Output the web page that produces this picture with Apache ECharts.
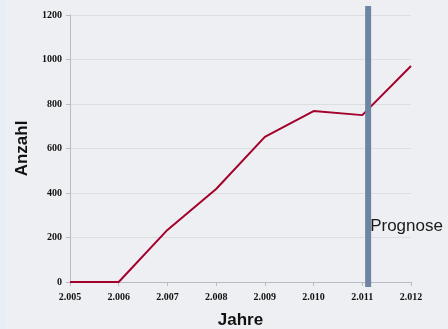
<!DOCTYPE html>
<html>
<head>
<meta charset="utf-8">
<script src="https://cdn.jsdelivr.net/npm/echarts@6/dist/echarts.min.js"></script>
<style>
  html, body { margin: 0; padding: 0; background: #eeeff2; }
  #strip { position: absolute; left: 0; top: 0; width: 6px; height: 329px; background: #e8edf6; }
  #chart { width: 448px; height: 329px; }
</style>
</head>
<body>
<div id="strip"></div>
<div id="chart"></div>
<script>
// Jahre / Anzahl
var years = [2005, 2006, 2007, 2008, 2009, 2010, 2011, 2012];
var counts = [0, 0, 234, 418, 652, 768, 750, 971];
var prognoseYear = 2011.12;
var prognoseLabel = "Prognose";

var myChart = echarts.init(document.getElementById('chart'));

function fmtYear(v) {
  // deutsches Tausendertrennzeichen
  var s = String(Math.round(v));
  return s.charAt(0) + "." + s.slice(1);
}

var labelFont = {
  fontFamily: "Liberation Serif",
  fontWeight: "bold",
  fontSize: 10,
  color: "#111"
};

var option = {
  backgroundColor: "transparent",
  animation: false,
  grid: { left: 70, right: 37, top: 15, bottom: 47, containLabel: false, outerBoundsMode: "none" },
  xAxis: {
    type: "value",
    min: 2005,
    max: 2012,
    interval: 1,
    name: "Jahre",
    nameLocation: "middle",
    nameGap: 30,
    nameTextStyle: { fontFamily: "Liberation Sans", fontWeight: "bold", fontSize: 17, color: "#111" },
    axisLine: { show: true, lineStyle: { color: "#b9bcc2", width: 1 } },
    axisTick: { show: true, length: 4, lineStyle: { color: "#b9bcc2" } },
    axisLabel: Object.assign({ formatter: fmtYear, margin: 10 }, labelFont),
    splitLine: { show: false }
  },
  yAxis: {
    type: "value",
    min: 0,
    max: 1200,
    interval: 200,
    name: "Anzahl",
    nameLocation: "middle",
    nameGap: 38,
    nameTextStyle: { fontFamily: "Liberation Sans", fontWeight: "bold", fontSize: 17, color: "#111" },
    axisLine: { show: true, lineStyle: { color: "#b9bcc2", width: 1 } },
    axisTick: { show: true, length: 4, lineStyle: { color: "#b9bcc2" } },
    axisLabel: Object.assign({ margin: 8, formatter: function (v) { return String(v); } }, labelFont),
    splitLine: { show: true, lineStyle: { color: "#dcdee2", width: 1 } }
  },
  series: [{
    type: "line",
    data: years.map(function (y, i) { return [y, counts[i]]; }),
    symbol: "none",
    lineStyle: { color: "#a3002c", width: 2 },
    z: 3
  }]
};
myChart.setOption(option);

// Prognose-Balken
var px = myChart.convertToPixel({ xAxisIndex: 0 }, prognoseYear);
myChart.setOption({
  graphic: [
    {
      type: "rect",
      shape: { x: px - 3, y: 6, width: 6, height: 281 },
      style: { fill: "#6e84a3" },
      z: 10
    },
    {
      type: "text",
      x: px + 2,
      y: 226,
      style: {
        text: prognoseLabel,
        font: "17px Liberation Sans",
        fill: "#1a1a1a",
        textVerticalAlign: "middle"
      },
      z: 11
    }
  ]
});
</script>
</body>
</html>
